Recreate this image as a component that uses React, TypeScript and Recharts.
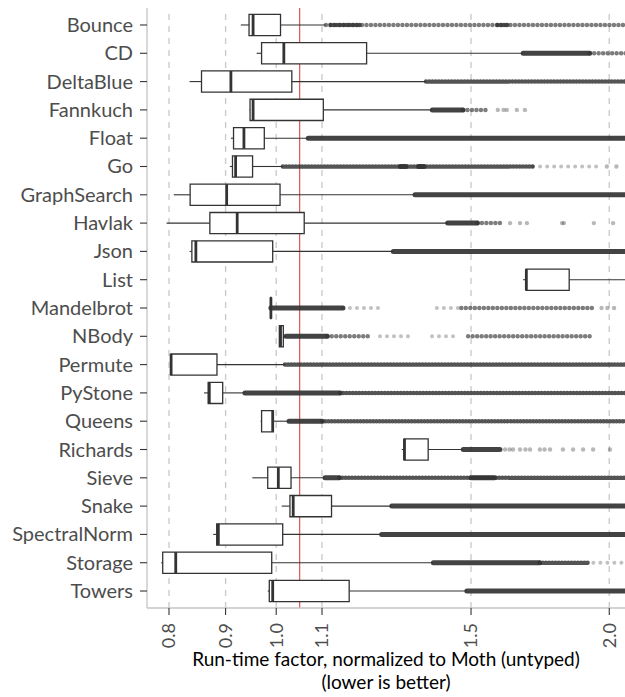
import React from "react";
import { ComposedChart, XAxis, YAxis, ReferenceLine, ReferenceArea, Scatter } from "recharts";

const BENCHMARKS = [
  "Bounce", "CD", "DeltaBlue", "Fannkuch", "Float", "Go", "GraphSearch", "Havlak",
  "Json", "List", "Mandelbrot", "NBody", "Permute", "PyStone", "Queens", "Richards",
  "Sieve", "Snake", "SpectralNorm", "Storage", "Towers",
];

// box statistics per benchmark (run-time factor vs. Moth untyped)
const LOWER = [0.929, 0.96, 0.835, 0.946, 0.91, 0.908, 0.808, 0.796, 0.835, 1.672, 0.989, 1.0065, 0.803, 0.8605, 0.968, 1.2985, 0.9515, 1.0115, 0.877, 0.787, 0.9825];
const Q1 = [0.945, 0.97, 0.856, 0.947, 0.915, 0.913, 0.836, 0.871, 0.839, 1.682, 0.9885, 1.0065, 0.803, 0.868, 0.97, 1.305, 0.9825, 1.029, 0.8835, 0.7896, 0.9857];
const MEDIAN = [0.953, 1.016, 0.91, 0.953, 0.935, 0.919, 0.902, 0.922, 0.846, 1.683, 0.989, 1.009, 0.8035, 0.87, 0.9927, 1.306, 1.0044, 1.036, 0.8865, 0.8113, 0.9927];
const Q3 = [1.009, 1.207, 1.033, 1.103, 0.9755, 0.952, 1.008, 1.06, 0.9927, 1.84, 0.9895, 1.0149, 0.884, 0.8946, 0.994, 1.372, 1.0313, 1.122, 1.0136, 0.9907, 1.164];
const UPPER = [1.109, 1.672, 1.366, 1.384, 1.069, 1.014, 1.335, 1.429, 1.276, 2.2, 0.989, 1.0206, 1.0185, 0.937, 1.027, 1.476, 1.107, 1.272, 1.2455, 1.387, 1.487];

// outliers: runs of overlapping points (benchmark, from, to, how packed) ...
type Density = "heavy" | "dense" | "medium" | "light";
const OUTLIER_RUNS: [string, number, number, Density][] = [
  ["Bounce", 1.109, 2.1, "medium"],
  ["Bounce", 1.12, 1.19, "dense"],
  ["Bounce", 1.585, 1.62, "dense"],
  ["CD", 1.672, 1.92, "heavy"],
  ["CD", 1.92, 2.1, "medium"],
  ["DeltaBlue", 1.366, 2.1, "dense"],
  ["Fannkuch", 1.384, 1.475, "heavy"],
  ["Fannkuch", 1.475, 1.56, "medium"],
  ["Float", 1.069, 2.1, "heavy"],
  ["Go", 1.014, 1.707, "dense"],
  ["Go", 1.295, 1.31, "heavy"],
  ["Go", 1.345, 1.36, "heavy"],
  ["Go", 1.707, 1.948, "light"],
  ["GraphSearch", 1.335, 2.1, "heavy"],
  ["Havlak", 1.429, 1.52, "heavy"],
  ["Havlak", 1.52, 1.6, "medium"],
  ["Json", 1.276, 2.1, "heavy"],
  ["Mandelbrot", 0.989, 1.149, "heavy"],
  ["Mandelbrot", 1.149, 1.241, "light"],
  ["Mandelbrot", 1.397, 1.47, "light"],
  ["Mandelbrot", 1.47, 1.934, "medium"],
  ["NBody", 1.0206, 1.112, "heavy"],
  ["NBody", 1.112, 1.221, "medium"],
  ["NBody", 1.241, 1.33, "light"],
  ["NBody", 1.383, 1.457, "light"],
  ["NBody", 1.491, 1.93, "medium"],
  ["Permute", 1.0185, 2.1, "dense"],
  ["PyStone", 0.937, 1.142, "heavy"],
  ["PyStone", 1.142, 2.1, "dense"],
  ["Queens", 1.027, 1.1, "heavy"],
  ["Queens", 1.1, 2.1, "dense"],
  ["Richards", 1.476, 1.593, "heavy"],
  ["Sieve", 1.107, 1.14, "heavy"],
  ["Sieve", 1.14, 2.1, "dense"],
  ["Sieve", 1.5, 1.575, "heavy"],
  ["Snake", 1.272, 2.1, "heavy"],
  ["SpectralNorm", 1.2455, 2.1, "heavy"],
  ["Storage", 1.387, 1.73, "heavy"],
  ["Storage", 1.73, 1.92, "dense"],
  ["Storage", 1.935, 2.1, "light"],
  ["Towers", 1.487, 2.1, "heavy"],
];

// ... and the single outliers that stand apart
const OUTLIER_POINTS: Record<string, number[]> = {
  Fannkuch: [1.586, 1.605, 1.616, 1.65, 1.678],
  Go: [1.99, 2.03],
  Havlak: [1.627, 1.661, 1.685, 1.813, 1.82, 1.937, 2.016],
  Mandelbrot: [1.968, 1.992, 2.02],
  Richards: [1.61, 1.625, 1.637, 1.661, 1.68, 1.696, 1.731, 1.748, 1.768, 1.816, 1.855, 1.894, 1.934, 2.003],
};

const X_DOMAIN: [number, number] = [0.7642, 2.0666];
const X_TICKS = [0.8, 0.9, 1.0, 1.1, 1.5, 2.0];
const REFERENCE_FACTOR = 1.05;

const FONT = "Lato, 'DejaVu Sans', sans-serif";
const INK = "#333333";
const HALF_BOX = 0.375;

const RUN_STYLE: Record<Density, any> = {
  heavy: { strokeWidth: 5, strokeOpacity: 0.92 },
  dense: { strokeWidth: 4.5, strokeOpacity: 0.84, strokeDasharray: "0 3.2" },
  medium: { strokeWidth: 4.5, strokeOpacity: 0.64, strokeDasharray: "0 4.5" },
  light: { strokeWidth: 4, strokeOpacity: 0.3, strokeDasharray: "0 7" },
};

const renderXTick = (props: any) => {
  const { x, y, payload } = props;
  return (
    <text x={x} y={y} transform={`rotate(-90 ${x} ${y})`} textAnchor="end" dy="0.35em"
      fontSize={18} fill="#4d4d4d" fontFamily={FONT}>
      {Number(payload.value).toFixed(1)}
    </text>
  );
};

const renderYTick = (props: any) => {
  const { x, y, payload } = props;
  return (
    <text x={x} y={y} textAnchor="end" dy="0.35em" fontSize={20} fill="#4d4d4d" fontFamily={FONT}>
      {BENCHMARKS[payload.value - 1]}
    </text>
  );
};

const renderTitle = (props: any) => {
  const { x, y, width } = props.viewBox;
  const cx = x + width / 2;
  return (
    <text x={cx} textAnchor="middle" fontSize={19} fill="#000" fontFamily={FONT}>
      <tspan x={cx} y={y + 58}>Run-time factor, normalized to Moth (untyped)</tspan>
      <tspan x={cx} y={y + 81}>(lower is better)</tspan>
    </text>
  );
};

export default function App() {
  const points = BENCHMARKS.flatMap((name, i) =>
    (OUTLIER_POINTS[name] || []).map((x) => ({ x, y: i + 1 }))
  );

  return (
    <div style={{ position: "absolute", left: 0, top: 0, background: "#fff" }}>
      <ComposedChart width={625} height={697} margin={{ top: 8, right: 0, bottom: 0, left: 0 }}
        style={{ fontFamily: FONT }}>
        <XAxis type="number" dataKey="x" scale="log" domain={X_DOMAIN} allowDataOverflow
          ticks={X_TICKS} interval={0} height={89} tickSize={7} tickMargin={8}
          axisLine={{ stroke: "#c4c4c4", strokeWidth: 1.3 }}
          tickLine={{ stroke: INK, strokeWidth: 1.1 }}
          tick={renderXTick} label={renderTitle} />
        <YAxis type="number" dataKey="y" domain={[0.4, 21.6]} allowDataOverflow reversed
          ticks={BENCHMARKS.map((_, i) => i + 1)} interval={0} width={147}
          tickSize={7} tickMargin={7}
          axisLine={{ stroke: "#c4c4c4", strokeWidth: 1.3 }}
          tickLine={{ stroke: INK, strokeWidth: 1.1 }}
          tick={renderYTick} />

        {X_TICKS.map((v) => (
          <ReferenceLine key={`g${v}`} x={v} stroke="#cccccc" strokeWidth={1.4}
            strokeDasharray="6 6" zIndex={50} />
        ))}
        <ReferenceLine x={REFERENCE_FACTOR} stroke="#e05555" strokeWidth={1.2} zIndex={51} />

        {BENCHMARKS.map((name, i) => (
          <ReferenceLine key={`wl${name}`} ifOverflow="hidden" zIndex={90}
            segment={[{ x: LOWER[i], y: i + 1 }, { x: Q1[i], y: i + 1 }]}
            stroke={INK} strokeWidth={1.1} />
        ))}
        {BENCHMARKS.map((name, i) => (
          <ReferenceLine key={`wu${name}`} ifOverflow="hidden" zIndex={90}
            segment={[{ x: Q3[i], y: i + 1 }, { x: UPPER[i], y: i + 1 }]}
            stroke={INK} strokeWidth={1.1} />
        ))}
        {BENCHMARKS.map((name, i) => (
          <ReferenceArea key={`b${name}`} ifOverflow="hidden" zIndex={100}
            x1={Q1[i]} x2={Q3[i]} y1={i + 1 - HALF_BOX} y2={i + 1 + HALF_BOX}
            fill="#ffffff" fillOpacity={1} stroke={INK} strokeWidth={1.3} />
        ))}
        {BENCHMARKS.map((name, i) => (
          <ReferenceLine key={`m${name}`} ifOverflow="hidden" zIndex={110}
            segment={[{ x: MEDIAN[i], y: i + 1 - HALF_BOX }, { x: MEDIAN[i], y: i + 1 + HALF_BOX }]}
            stroke={INK} strokeWidth={2.8} />
        ))}
        {OUTLIER_RUNS.map(([name, from, to, density], k) => {
          const y = BENCHMARKS.indexOf(name) + 1;
          return (
            <ReferenceLine key={`o${k}`} ifOverflow="hidden" zIndex={120}
              segment={[{ x: from, y }, { x: to, y }]}
              stroke={INK} strokeLinecap="round" {...RUN_STYLE[density]} />
          );
        })}
        <Scatter data={points} isAnimationActive={false} zIndex={130}
          shape={(p: any) => <circle cx={p.cx} cy={p.cy} r={2.2} fill={INK} fillOpacity={0.35} />} />
      </ComposedChart>
    </div>
  );
}
